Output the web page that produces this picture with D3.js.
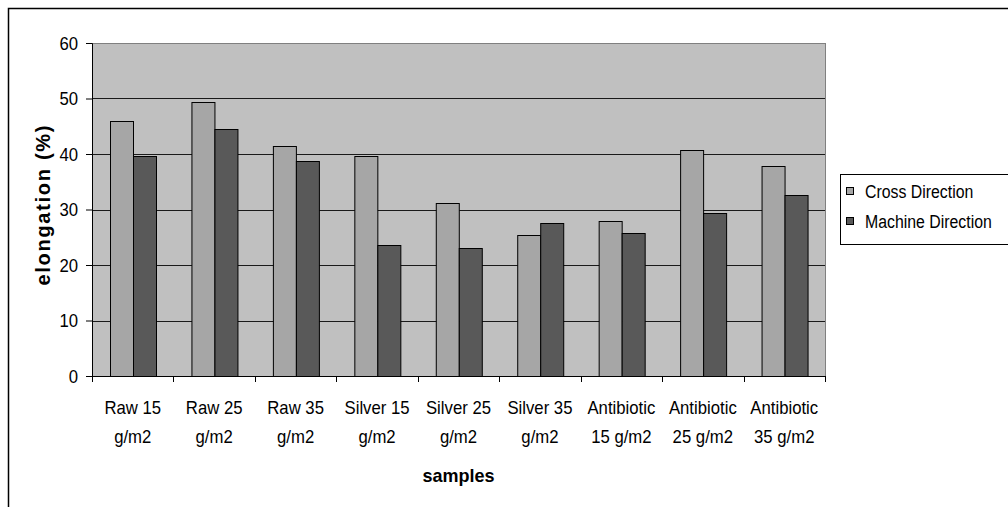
<!DOCTYPE html>
<html>
<head>
<meta charset="utf-8">
<script src="https://cdn.jsdelivr.net/npm/d3@7"></script>
<style>
  html, body { margin: 0; padding: 0; background: #fff; }
  svg { display: block; font-family: "Liberation Sans", Arial, sans-serif; }
</style>
</head>
<body>
<svg id="chart" width="1008" height="507"></svg>
<script>
// ─── Data ─────────────────────────────────────────────────────────────────────

const samples = [
  "Raw 15|g/m2", "Raw 25|g/m2", "Raw 35|g/m2",
  "Silver 15|g/m2", "Silver 25|g/m2", "Silver 35|g/m2",
  "Antibiotic|15 g/m2", "Antibiotic|25 g/m2", "Antibiotic|35 g/m2"
];
const seriesNames = ["Cross Direction", "Machine Direction"];
const crossDirection = [46.0, 49.3, 41.4, 39.6, 31.2, 25.4, 27.9, 40.8, 37.8];
const machineDirection = [39.6, 44.5, 38.7, 23.6, 23.0, 27.6, 25.7, 29.4, 32.7];
const yTicks = [0, 10, 20, 30, 40, 50, 60];

const colors = { "Cross Direction": "#a6a6a6", "Machine Direction": "#595959" };

// ─── Helpers ──────────────────────────────────────────────────────────────────

// squeeze text horizontally, the source glyphs look narrow
function squeeze(sel, k) {
  sel.each(function () {
    const w = this.getComputedTextLength();
    d3.select(this).attr("textLength", w * k).attr("lengthAdjust", "spacingAndGlyphs");
  });
}

// ─── Chart ────────────────────────────────────────────────────────────────────

const svg = d3.select("#chart");
const plot = { left: 92, right: 825, top: 43, bottom: 376 };

const rows = samples.map((s, i) => ({
  sample: s,
  values: [
    { key: seriesNames[0], v: crossDirection[i] },
    { key: seriesNames[1], v: machineDirection[i] }
  ]
}));

const x0 = d3.scaleBand().domain(samples).range([plot.left, plot.right]).padding(0);
const x1 = d3.scaleBand().domain(seriesNames).range([0, x0.bandwidth()])
  .paddingInner(0).paddingOuter(0.77);
const y = d3.scaleLinear().domain([0, 60]).range([plot.bottom, plot.top]);

// outer chart border
svg.append("rect")
  .attr("x", 8.5).attr("y", 8.5)
  .attr("width", 1010).attr("height", 510)
  .attr("fill", "none").attr("stroke", "#000").attr("stroke-width", 1.5);

// plot background
svg.append("rect")
  .attr("x", plot.left + 0.5).attr("y", plot.top + 0.5)
  .attr("width", plot.right - plot.left).attr("height", plot.bottom - plot.top)
  .attr("fill", "#c0c0c0").attr("stroke", "#808080");

// gridlines
svg.append("g")
  .selectAll("line")
  .data(yTicks.filter(d => d > 0 && d < 60))
  .join("line")
  .attr("x1", plot.left).attr("x2", plot.right)
  .attr("y1", d => Math.round(y(d)) + 0.5)
  .attr("y2", d => Math.round(y(d)) + 0.5)
  .attr("stroke", "#1a1a1a");

// bars
svg.append("g")
  .selectAll("g")
  .data(rows)
  .join("g")
  .attr("transform", d => `translate(${x0(d.sample)},0)`)
  .selectAll("rect")
  .data(d => d.values)
  .join("rect")
  .attr("x", d => Math.round(x1(d.key)) + 0.5)
  .attr("y", d => Math.round(y(d.v)) + 0.5)
  .attr("width", Math.round(x1.bandwidth()))
  .attr("height", d => Math.round(y(0)) - Math.round(y(d.v)))
  .attr("fill", d => colors[d.key])
  .attr("stroke", "#000")
  .attr("stroke-width", 1);

// y axis
const yAxis = svg.append("g")
  .attr("transform", `translate(${plot.left},0)`)
  .call(d3.axisLeft(y).tickValues(yTicks).tickSize(6).tickPadding(8));
yAxis.select(".domain").attr("stroke", "#000");
yAxis.selectAll("text")
  .attr("font-size", "19px").attr("fill", "#000")
  .call(squeeze, 0.88);

// x axis, ticks sit between categories
const xAxis = svg.append("g")
  .attr("transform", `translate(0,${plot.bottom})`);
xAxis.append("line")
  .attr("x1", plot.left).attr("x2", plot.right + 1)
  .attr("y1", 0.5).attr("y2", 0.5).attr("stroke", "#000");
const bounds = samples.map(s => x0(s)).concat([plot.right]);
xAxis.selectAll(".tick")
  .data(bounds)
  .join("line")
  .attr("class", "tick")
  .attr("x1", d => Math.round(d) + 0.5).attr("x2", d => Math.round(d) + 0.5)
  .attr("y1", 0).attr("y2", 6)
  .attr("stroke", "#000");

const labels = xAxis.selectAll(".xlabel")
  .data(samples)
  .join("text")
  .attr("class", "xlabel")
  .attr("text-anchor", "middle")
  .attr("font-size", "19px")
  .attr("fill", "#000");
labels.selectAll("tspan")
  .data(d => d.split("|").map(t => ({ t, cx: x0(d) + x0.bandwidth() / 2 })))
  .join("tspan")
  .attr("x", d => d.cx)
  .attr("y", (d, i) => 38 + i * 29)
  .text(d => d.t)
  .call(squeeze, 0.88);

// axis titles
svg.append("text")
  .attr("x", (plot.left + plot.right) / 2)
  .attr("y", 482)
  .attr("text-anchor", "middle")
  .attr("font-size", "19px")
  .attr("font-weight", "bold")
  .text("samples")
  .attr("textLength", 72)
  .attr("lengthAdjust", "spacingAndGlyphs");

svg.append("text")
  .attr("transform", `translate(50,${(plot.top + plot.bottom) / 2 - 4}) rotate(-90)`)
  .attr("text-anchor", "middle")
  .attr("font-size", "20px")
  .attr("font-weight", "bold")
  .text("elongation (%)")
  .attr("textLength", 160)
  .attr("lengthAdjust", "spacing");

// legend
const legend = svg.append("g");
legend.append("rect")
  .attr("x", 840.5).attr("y", 174.5)
  .attr("width", 200).attr("height", 70)
  .attr("fill", "#fff").attr("stroke", "#000");

const items = legend.selectAll(".item")
  .data(seriesNames)
  .join("g")
  .attr("class", "item")
  .attr("transform", (d, i) => `translate(0,${i * 30})`);
items.append("rect")
  .attr("x", 846.5).attr("y", 187.5)
  .attr("width", 7).attr("height", 7)
  .attr("fill", d => colors[d]).attr("stroke", "#000");
items.append("text")
  .attr("x", 865).attr("y", 198)
  .attr("font-size", "18px")
  .attr("fill", "#000")
  .text(d => d)
  .call(squeeze, 0.88);
</script>
</body>
</html>
